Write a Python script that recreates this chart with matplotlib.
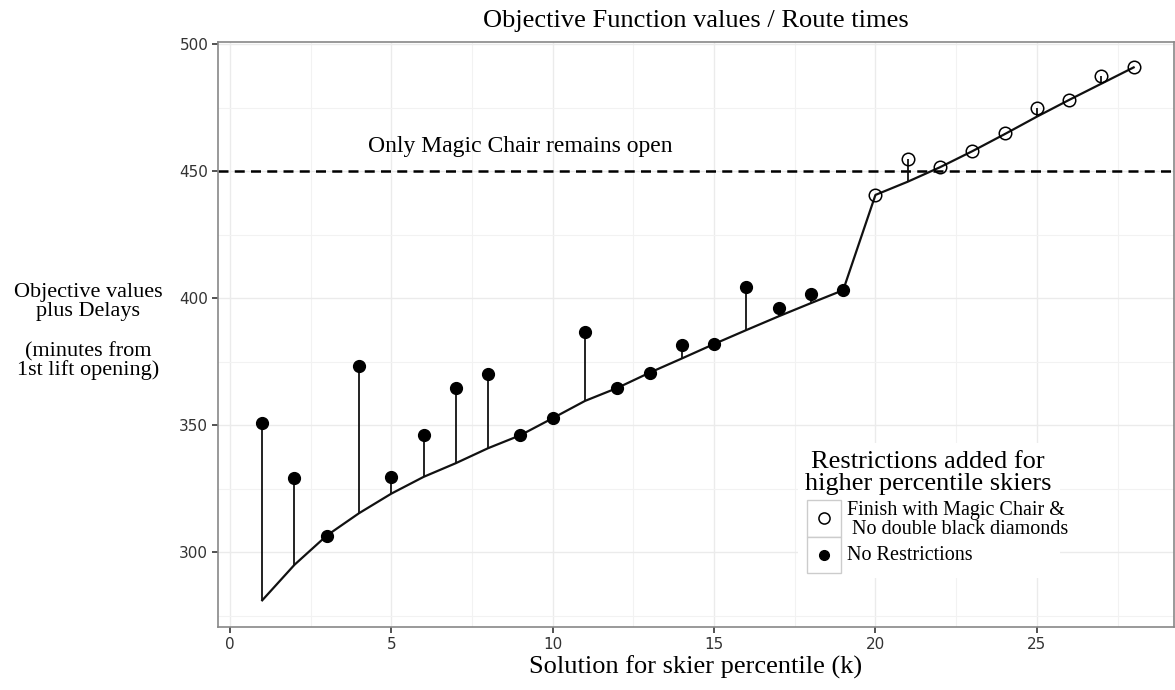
import numpy as np
import matplotlib.pyplot as plt
from matplotlib.patches import Rectangle

# solution index k
k = np.arange(1, 29)
# objective value of each solution (the line)
objective = [281, 295, 306.5, 315.3, 323, 329.6, 335, 340.9, 346, 352.7,
             359.5, 364.6, 370.6, 376.2, 381.9, 387.4, 392.8, 398, 403.1,
             440.6, 445.8, 451.5, 457.8, 464.5, 471.4, 478, 484.4, 490.8]
# objective value plus delays (the points)
with_delays = [351, 329.1, 306.5, 373.3, 329.5, 346.1, 364.7, 370.1, 346, 352.7,
               386.7, 364.6, 370.6, 381.5, 381.9, 404.4, 395.9, 401.6, 403.1,
               440.6, 454.7, 451.5, 457.8, 464.8, 474.7, 478, 487.4, 490.8]
# first solution that must finish with Magic Chair
restricted_from = 20
magic_chair_only = 450

plt.rcParams['font.family'] = ['Liberation Serif', 'DejaVu Serif']

fig = plt.figure(figsize=(11.75, 6.9), dpi=100)
ax = fig.add_axes([218 / 1175, 1 - 627 / 690, 956 / 1175, 585 / 690])

# grid like ggplot theme_bw
ax.set_xticks(np.arange(0, 30, 5))
ax.set_xticks(np.arange(2.5, 30, 5), minor=True)
ax.set_yticks(np.arange(300, 501, 50))
ax.set_yticks(np.arange(275, 501, 50), minor=True)
ax.grid(True, which='major', color='#ebebeb', linewidth=1.0)
ax.grid(True, which='minor', color='#f2f2f2', linewidth=0.8)
ax.set_axisbelow(True)
ax.tick_params(which='minor', length=0)
ax.tick_params(which='major', length=4, width=1.2, color='#333333', labelsize=11,
               labelcolor='#333333', pad=3)
for lab in ax.get_xticklabels() + ax.get_yticklabels():
    lab.set_family(['DejaVu Sans'])
for s in ax.spines.values():
    s.set_color('#888888')
    s.set_linewidth(1.2)

ax.axhline(magic_chair_only, color='black', linestyle=(0, (4, 2.5)), linewidth=1.8)
ax.text(9, 459.5, 'Only Magic Chair remains open', fontsize=17, ha='center', va='center')

ax.plot(k, objective, color='#111111', linewidth=1.6, zorder=3)
ax.vlines(k, objective, with_delays, color='#111111', linewidth=1.3, zorder=3)

pts = np.array(with_delays)
free = k < restricted_from
ax.plot(k[free], pts[free], 'o', color='black', markersize=8.5, zorder=4)
ax.plot(k[~free], pts[~free], 'o', markerfacecolor='none', markeredgecolor='black',
        markeredgewidth=1.1, markersize=9, zorder=4)

ax.set_xlim(-0.37, 29.25)
ax.set_ylim(270.5, 500.8)

ax.set_title('Objective Function values / Route times', fontsize=19, pad=11)
ax.set_xlabel('Solution for skier percentile (k)', fontsize=19, labelpad=3)

# y label, horizontal, in two blocks
fig.text(88 / 1175, 1 - 302 / 690, 'Objective values\nplus Delays',
         fontsize=16, ha='center', va='center', linespacing=0.95)
fig.text(88 / 1175, 1 - 361 / 690, '(minutes from\n1st lift opening)',
         fontsize=16, ha='center', va='center', linespacing=0.95)

# legend drawn by hand, ggplot style
lg = fig.add_axes([798 / 1175, 1 - 578 / 690, 262 / 1175, 135 / 690])
lg.set_xlim(798, 1060)
lg.set_ylim(578, 443)
lg.axis('off')
lg.add_patch(Rectangle((798, 443), 262, 135, facecolor='white', edgecolor='none'))
lg.text(928, 473, 'Restrictions added for\nhigher percentile skiers',
        fontsize=19, ha='center', va='center', linespacing=1.0)
for top, bottom in [(500, 537), (537, 573)]:
    lg.add_patch(Rectangle((807, top), 34, bottom - top, facecolor='white',
                           edgecolor='#cccccc', linewidth=1.0))
lg.plot([824], [518], 'o', markerfacecolor='none', markeredgecolor='black',
        markeredgewidth=1.1, markersize=8)
lg.plot([824], [555], 'o', color='black', markersize=7)
lg.text(847, 520, 'Finish with Magic Chair &\n No double black diamonds',
        fontsize=14.5, ha='left', va='center', linespacing=0.95)
lg.text(847, 555, 'No Restrictions', fontsize=14.5, ha='left', va='center')

fig.savefig('out.png', dpi=100)
